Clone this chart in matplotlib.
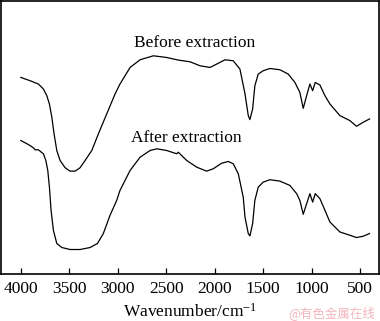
import matplotlib
matplotlib.use("Agg")
import matplotlib.pyplot as plt

plt.rcParams['font.family'] = ['Liberation Serif', 'DejaVu Serif']
plt.rcParams['mathtext.fontset'] = 'custom'
plt.rcParams['mathtext.rm'] = 'Liberation Serif'
plt.rcParams['mathtext.it'] = 'Liberation Serif:italic'

# FTIR spectra, transmittance in arbitrary units (higher = more transmission)
before_wn = [4000, 3904, 3819, 3767, 3732, 3705, 3680, 3657, 3629, 3595,
             3543, 3492, 3440, 3389, 3337, 3268, 3200, 3114, 3028, 2977,
             2873, 2770, 2633, 2495, 2376, 2255, 2152, 2049, 1980, 1894,
             1809, 1740, 1688, 1654, 1637, 1609, 1586, 1551, 1500, 1431,
             1328, 1242, 1173, 1122, 1087, 1052, 1018, 990, 963, 915,
             863, 812, 709, 606, 537, 469, 403]
before_t = [197.3, 194, 190.7, 185.7, 179, 170.7, 157.3, 140.7, 124, 114,
            106.7, 103.3, 103.3, 106.7, 114, 124, 140.7, 160.7, 180.7, 190.7,
            207.3, 215, 219, 217.3, 214.7, 213, 209, 207.3, 210.7, 215,
            214, 205.7, 181, 159, 155, 165.7, 189, 200.7, 204, 206.3,
            205, 200.7, 192.3, 182.3, 166.3, 179, 190.7, 184, 192.3, 189.7,
            179, 170.7, 159, 154, 148.3, 152.3, 155.7]

after_wn = [4000, 3922, 3870, 3853, 3819, 3767, 3742, 3722, 3705, 3688,
            3664, 3629, 3577, 3492, 3389, 3286, 3210, 3149, 3080, 3011,
            2977, 2873, 2770, 2667, 2598, 2495, 2392, 2376, 2289, 2186,
            2083, 2015, 1928, 1860, 1809, 1757, 1706, 1688, 1654, 1637,
            1609, 1586, 1551, 1500, 1431, 1328, 1225, 1155, 1122, 1087,
            1052, 1018, 990, 963, 915, 863, 812, 709, 606, 537, 469, 403]
after_t = [134, 130, 126.7, 124.7, 124.7, 120.7, 114, 104, 87.3, 64,
           44, 30.7, 26.7, 24.7, 24.7, 26.7, 30.7, 40.7, 59, 74,
           84, 104, 117.3, 124, 125.7, 124, 120.7, 122.3, 114, 107.3,
           103.3, 105.7, 111.3, 113, 110.7, 100.7, 77.3, 57.3, 40.7, 38.3,
           50.7, 74, 87.3, 92.3, 94.7, 93.3, 89, 80.7, 74, 60,
           70.7, 80.7, 72.3, 80.7, 75.7, 64, 52.3, 42.3, 39, 36.7, 38, 40.7]

tick_vals = [4000, 3500, 3000, 2500, 2000, 1500, 1000, 500]

fig = plt.figure(figsize=(3.8, 3.21), dpi=100)
ax = fig.add_axes([0.003, 0.146, 0.994, 0.851])

ax.plot(before_wn, before_t, color='black', lw=0.9)
ax.plot(after_wn, after_t, color='black', lw=0.9)

ax.set_xlim(4203, 307)
ax.set_ylim(0, 274)
ax.set_xticks(tick_vals)
ax.set_yticks([])
ax.tick_params(axis='x', direction='in', length=4, width=0.9,
               labelsize=12.5, pad=5)
for s in ax.spines.values():
    s.set_linewidth(1.2)

ax.text(2210, 232, 'Before extraction', ha='center', va='center', fontsize=12.5)
ax.text(2290, 137, 'After extraction', ha='center', va='center', fontsize=12.5)

fig.text(0.5, 0.012, 'Wavenumber/cm$^{-1}$', ha='center', va='baseline', fontsize=12.5)
fig.text(0.987, 0.012, '@有色金属在线', ha='right', va='baseline', fontsize=9,
         color='#f2b5bd', family=['Noto Sans CJK SC', 'DejaVu Sans'])

fig.savefig('out.png', dpi=100)
